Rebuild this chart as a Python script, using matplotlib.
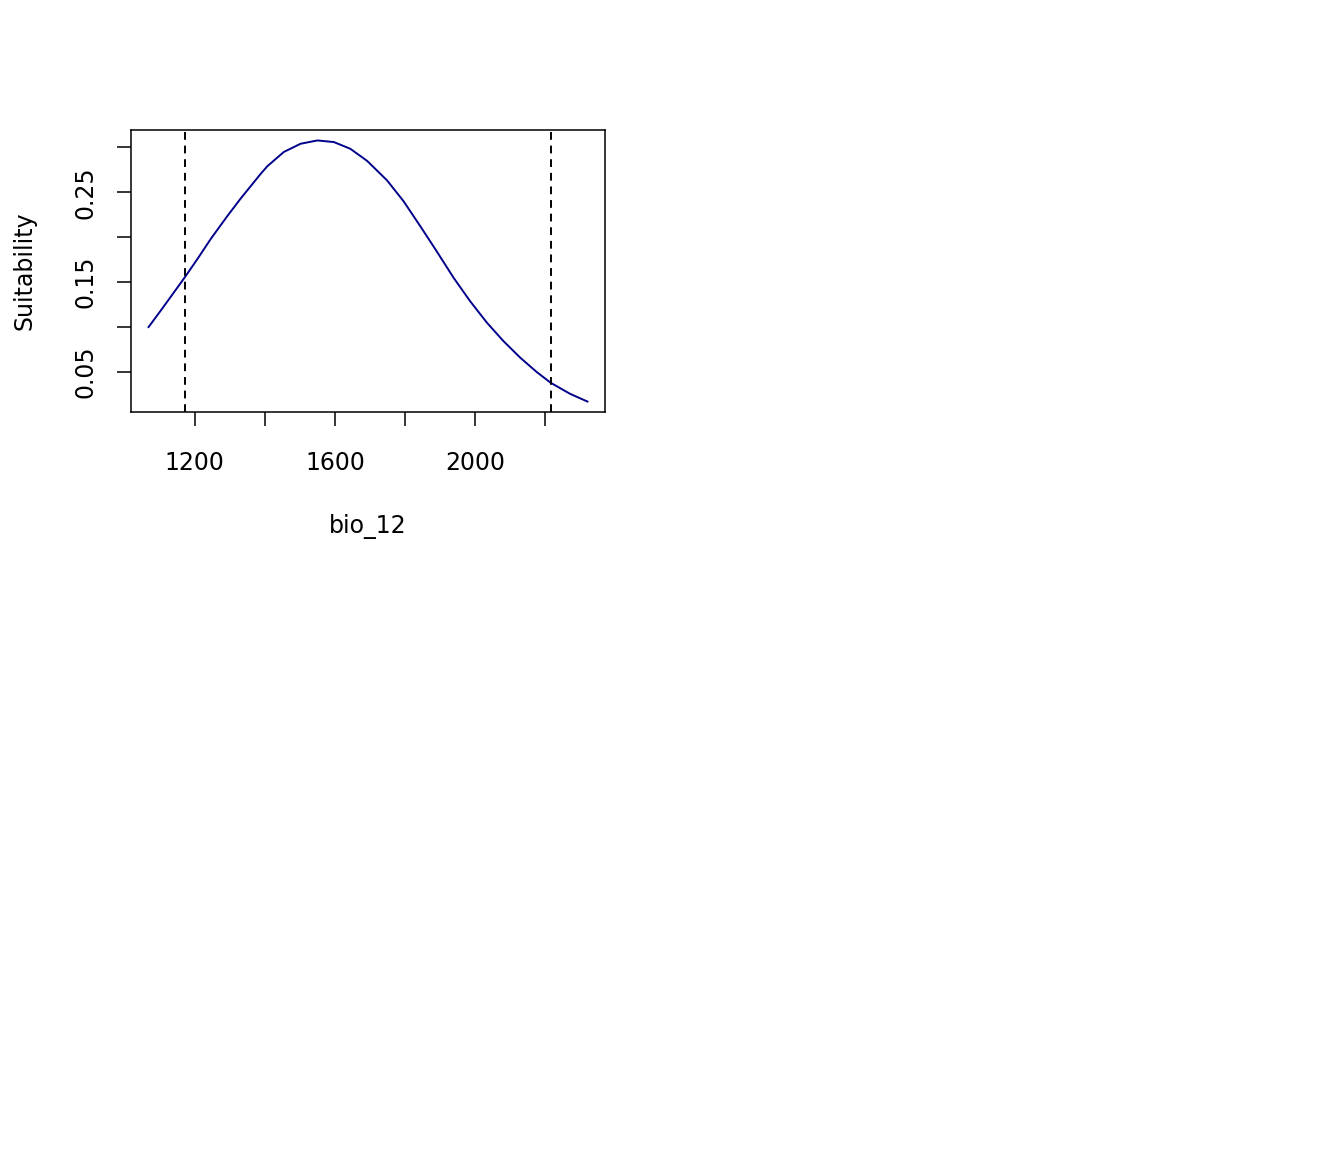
import matplotlib
matplotlib.use("Agg")
import matplotlib.pyplot as plt

# response curve
bio_12 = [1068, 1103, 1141, 1172, 1208, 1246, 1293, 1331, 1388, 1407,
          1454, 1502, 1550, 1597, 1644, 1692, 1749, 1796, 1844, 1892,
          1939, 1986, 2034, 2081, 2129, 2176, 2216, 2271, 2321]
suitability = [0.0996, 0.1181, 0.1386, 0.1554, 0.1758, 0.1982, 0.2235, 0.2430, 0.2705, 0.2790,
               0.2949, 0.3041, 0.3078, 0.3060, 0.2985, 0.2850, 0.2632, 0.2400, 0.2120, 0.1833,
               0.1545, 0.1285, 0.1045, 0.0840, 0.0655, 0.0495, 0.0375, 0.0252, 0.0165]
limits = [1172, 2216]

x_ticks = [1200, 1400, 1600, 1800, 2000, 2200]
x_labels = ["1200", "", "1600", "", "2000", ""]
y_ticks = [0.05, 0.10, 0.15, 0.20, 0.25, 0.30]
y_labels = ["0.05", "", "0.15", "", "0.25", ""]

plt.rcParams["font.family"] = "DejaVu Sans"
fig = plt.figure(figsize=(13.44, 11.52), dpi=100)
ax = fig.add_axes([131 / 1344, 1 - 412 / 1152, 474 / 1344, 282 / 1152])

ax.plot(bio_12, suitability, color="#00008B", lw=1.4, solid_joinstyle="round")
for v in limits:
    ax.axvline(v, color="black", lw=1.4, ls=(0, (4, 3)))

xr = max(bio_12) - min(bio_12)
yr = max(suitability) - min(suitability)
ax.set_xlim(min(bio_12) - 0.04 * xr, max(bio_12) + 0.04 * xr)
ax.set_ylim(min(suitability) - 0.04 * yr, max(suitability) + 0.04 * yr)

ax.set_xticks(x_ticks)
ax.set_xticklabels(x_labels)
ax.set_yticks(y_ticks)
ax.set_yticklabels(y_labels, rotation=90, va="center")
ax.tick_params(direction="out", length=10, width=1.1, labelsize=17, pad=18)
ax.tick_params(axis="y", pad=14)
for s in ax.spines.values():
    s.set_linewidth(1.1)

ax.set_xlabel("bio_12", fontsize=17, labelpad=28)
ax.set_ylabel("Suitability", fontsize=17, labelpad=27)

fig.savefig("out.png", dpi=100)
